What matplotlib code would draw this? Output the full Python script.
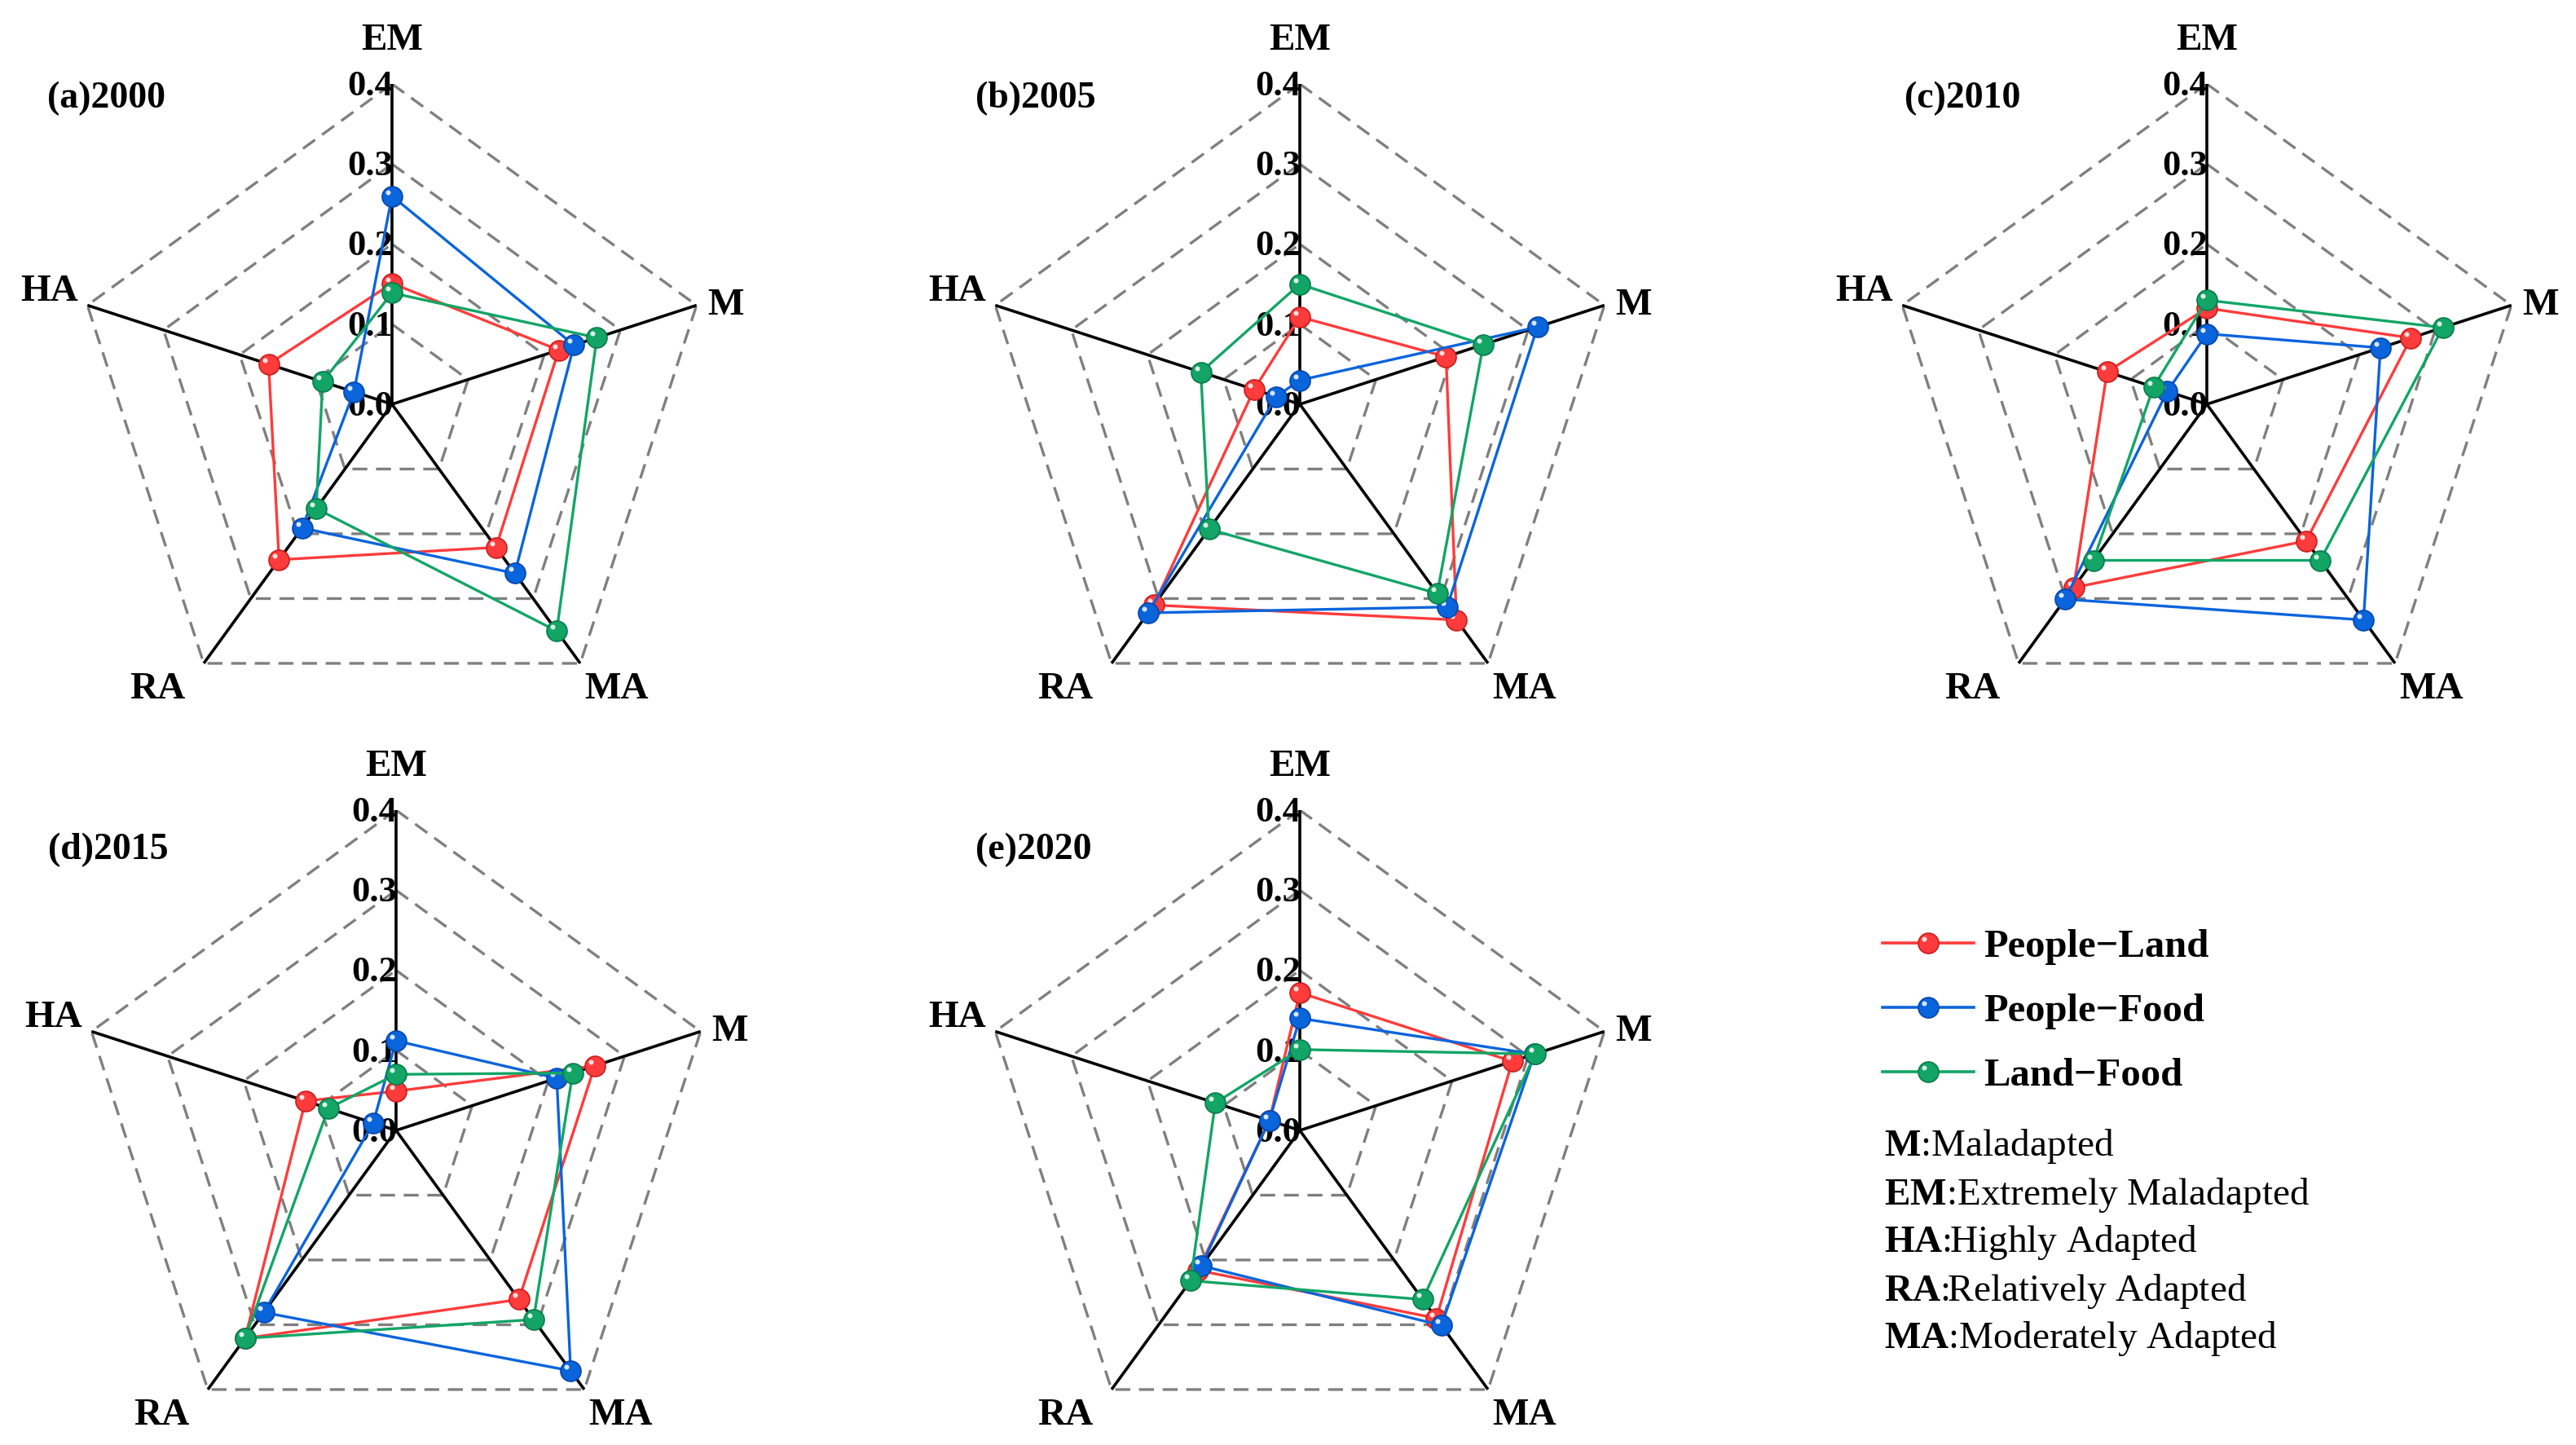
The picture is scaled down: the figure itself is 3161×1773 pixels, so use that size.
import numpy as np
import matplotlib.pyplot as plt
from matplotlib.path import Path
from matplotlib.markers import MarkerStyle
from matplotlib.lines import Line2D

plt.rcParams['font.family'] = 'Liberation Serif'
plt.rcParams['mathtext.fontset'] = 'custom'
plt.rcParams['mathtext.rm'] = 'Liberation Serif'
plt.rcParams['mathtext.bf'] = 'Liberation Serif:bold'

# axis order, clockwise from the top
categories = ['EM', 'M', 'MA', 'RA', 'HA']
panel_titles = ['(a)2000', '(b)2005', '(c)2010', '(d)2015', '(e)2020']
series_names = ['People\u2212Land', 'People\u2212Food', 'Land\u2212Food']

# one row per year, columns in the order of categories
people_land = [
    [0.151, 0.219, 0.221, 0.240, 0.162],
    [0.109, 0.192, 0.333, 0.310, 0.060],
    [0.120, 0.268, 0.211, 0.283, 0.131],
    [0.049, 0.261, 0.261, 0.321, 0.119],
    [0.172, 0.279, 0.290, 0.216, 0.040],
]
people_food = [
    [0.260, 0.239, 0.261, 0.191, 0.050],
    [0.030, 0.312, 0.313, 0.322, 0.031],
    [0.088, 0.228, 0.333, 0.301, 0.052],
    [0.112, 0.211, 0.371, 0.281, 0.030],
    [0.140, 0.308, 0.301, 0.209, 0.040],
]
land_food = [
    [0.139, 0.269, 0.350, 0.161, 0.091],
    [0.150, 0.241, 0.292, 0.193, 0.130],
    [0.130, 0.310, 0.241, 0.241, 0.070],
    [0.070, 0.232, 0.292, 0.321, 0.089],
    [0.101, 0.309, 0.261, 0.232, 0.111],
]
ring_values = [0.1, 0.2, 0.3, 0.4]
tick_values = [0.0, 0.1, 0.2, 0.3, 0.4]
tick_labels = ['0.0', '0.1', '0.2', '0.3', '0.4']
abbrev = ['M', 'EM', 'HA', 'RA', 'MA']
meanings = ['Maladapted', 'Extremely Maladapted', 'Highly Adapted',
            'Relatively Adapted', 'Moderately Adapted']

colors = ['#ff3b3b', '#0a64dc', '#12a566']
edge_colors = ['#c81e1e', '#0646a8', '#0b7a4a']
all_series = [people_land, people_food, land_food]

W, H, DPI = 3161, 1773, 200
fig = plt.figure(figsize=(W / DPI, H / DPI), dpi=DPI)

# panel centres in pixels, radius of the 0.4 ring
centres = [(481, 496), (1595, 496), (2708, 496), (486, 1387), (1595, 1387)]
R = 393
title_pos = [(58, 121), (1197, 121), (2337, 121), (59, 1043), (1197, 1043)]

# little white shine in the upper-left of every ball
shine = MarkerStyle(Path.circle(center=(-0.2, 0.2), radius=0.12))
MS = 9

# label placement (offset in points, ha, va)
cat_place = {
    'EM': ((0, 15), 'center', 'baseline'),
    'M': ((5, 0), 'left', 'center'),
    'MA': ((2, -4), 'left', 'top'),
    'RA': ((-8, -4), 'right', 'top'),
    'HA': ((-4, 6), 'right', 'center'),
}

theta = np.linspace(0, 2 * np.pi, len(categories), endpoint=False)
theta_c = np.append(theta, theta[0])

for i, (cx, cy) in enumerate(centres):
    ax = fig.add_axes([(cx - R) / W, 1 - (cy + R) / H, 2 * R / W, 2 * R / H],
                      projection='polar')
    ax.set_theta_zero_location('N')
    ax.set_theta_direction(-1)
    ax.set_ylim(0, 0.4)
    ax.set_axis_off()

    for r in ring_values:
        ax.plot(theta_c, [r] * len(theta_c), color='#7f7f7f', lw=1.2,
                ls=(0, (5.5, 3.2)), zorder=1)
    for t in theta:
        ax.plot([t, t], [0, 0.4], color='black', lw=1.3, zorder=2)

    for s, data in enumerate(all_series):
        v = np.append(data[i], data[i][0])
        ax.plot(theta_c, v, color=colors[s], lw=1.2, marker='o', ms=MS,
                mfc=colors[s], mec=edge_colors[s], mew=0.6,
                markevery=slice(0, len(categories)), zorder=3 + s)
        ax.plot(theta, data[i], ls='none', marker=shine, ms=MS * 0.64,
                color='white', alpha=0.85, mew=0, zorder=3 + s)

    for val, lab in zip(tick_values, tick_labels):
        ax.annotate(lab, xy=(0, val), xytext=(0.5, -1), textcoords='offset points',
                    ha='right', va='center', fontsize=16, fontweight='bold',
                    annotation_clip=False, zorder=2)

    for t, cat in zip(theta, categories):
        off, ha, va = cat_place[cat]
        ax.annotate(cat, xy=(t, 0.4), xytext=off, textcoords='offset points',
                    ha=ha, va=va, fontsize=17, fontweight='bold',
                    annotation_clip=False)

    tx, ty = title_pos[i]
    fig.text(tx / W, 1 - ty / H, panel_titles[i], ha='left', va='center',
             fontsize=16.5, fontweight='bold')

# legend
handles = []
for s in range(len(series_names)):
    ln = Line2D([], [], color=colors[s], lw=1.3, marker='o', ms=MS,
                mfc=colors[s], mec=edge_colors[s], mew=0.6)
    hl = Line2D([], [], ls='none', marker=shine, ms=MS * 0.64,
                color='white', alpha=0.85, mew=0)
    handles.append((ln, hl))
fig.legend(handles, series_names, loc='upper left',
           bbox_to_anchor=(2310 / W, 1 - 1140 / H), frameon=False,
           prop={'weight': 'bold', 'size': 17.5}, handlelength=2.3,
           handletextpad=0.25, labelspacing=0.72, borderpad=0,
           borderaxespad=0, numpoints=1)

# abbreviation key
for k, (a, m) in enumerate(zip(abbrev, meanings)):
    fig.text(2312 / W, 1 - (1407 + 59 * k) / H, r'$\mathbf{' + a + '}$:' + m,
             ha='left', va='center', fontsize=17)

fig.savefig('out.png', dpi=DPI, facecolor='white')
